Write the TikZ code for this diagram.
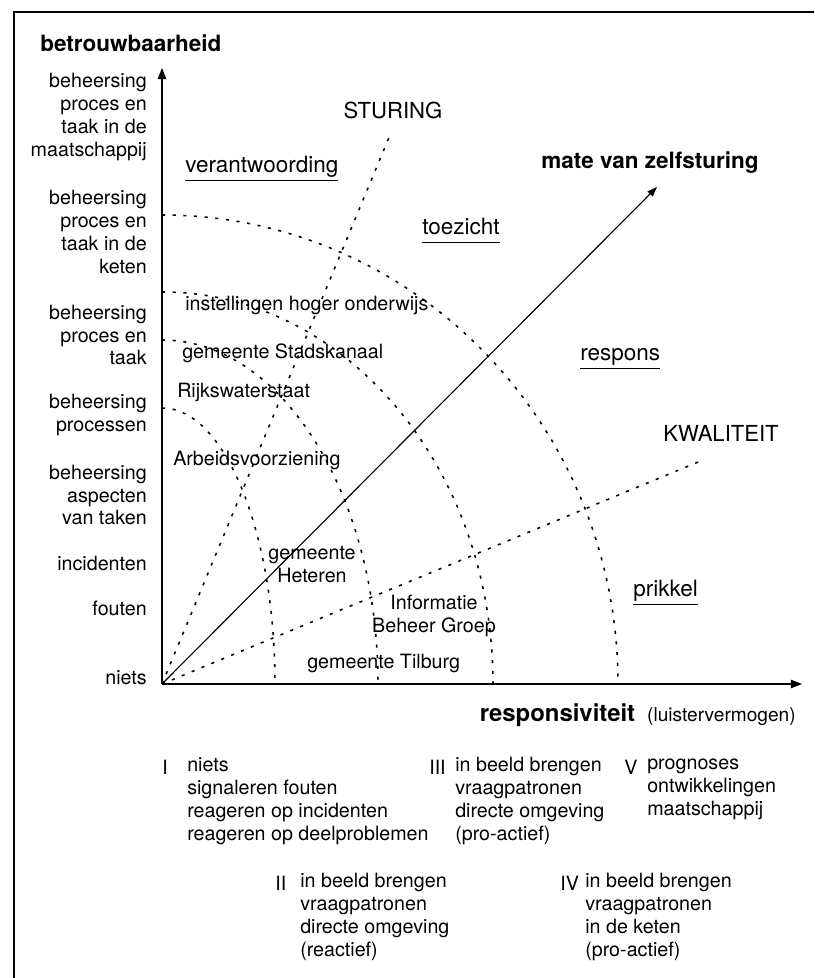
\documentclass[tikz,border=0pt]{standalone}
\usepackage{fontspec}
\setmainfont{TeX Gyre Heros}
\usetikzlibrary{arrows.meta}
\newcommand{\ondr}[1]{\underline{#1\vphantom{g}}}

\begin{document}
\begin{tikzpicture}[x=0.025cm, y=0.025cm,
    lbl/.style={font=\fontsize{14}{16.3}\selectfont, inner sep=0pt},
    vet/.style={font=\fontsize{16}{19}\selectfont\bfseries, inner sep=0pt},
    kop/.style={font=\fontsize{15.7}{19}\selectfont, inner sep=0pt},
    gebied/.style={font=\fontsize{16}{19}\selectfont, inner sep=0pt, anchor=base west},
    stip/.style={line width=1.1pt, dash pattern=on 2.2pt off 5.4pt},
    pijl/.style={-{Triangle[length=8pt,width=6pt]}, line width=1pt}]
  \useasboundingbox (-162,-294) rectangle (652,684);
  % kader
  \draw[line width=0.9pt] (-148,-294) -- (-148,672) -- (652,672);
  % assen en lijnen vanuit de oorsprong
  \coordinate (O) at (0,0);
  \coordinate (ytop) at (0,616);
  \coordinate (xend) at (640,0);
  \coordinate (zelf) at (495,497);
  \coordinate (stur) at (228,549);
  \coordinate (kwal) at (541,224);
  \draw[pijl] (O) -- (ytop);
  \draw[pijl] (O) -- (xend);
  \draw[-{Triangle[length=7pt,width=5pt]}, line width=0.8pt] (O) -- (zelf);
  \draw[stip] (O) -- (stur);
  \draw[stip] (O) -- (kwal);
  % bogen
  \foreach \a/\b in {113/276, 216/344, 331/392, 456/469}
    \draw[stip] (0,\b) arc[start angle=90, end angle=0, x radius=\a, y radius=\b];

  % as-titels
  \node (betr) [vet, anchor=west] at (-122,641) {betrouwbaarheid};
  \node (mate) [vet] at (488,521) {mate van zelfsturing};
  \node (resp) [inner sep=0pt, anchor=east] at (634,-31)
    {\fontsize{17}{19}\selectfont\bfseries responsiviteit\hspace{0.5em}\fontsize{13.6}{16}\selectfont\mdseries (luistervermogen)};
  \node (sturing) [kop] at (231,574) {STURING};
  \node (kwaliteit) [kop] at (559,251) {KWALITEIT};

  % niveaus langs de y-as
  \node (maatsch) [lbl, anchor=east, align=right] at (-15,567) {beheersing\\proces en\\taak in de\\maatschappij};
  \node (keten) [lbl, anchor=east, align=right] at (-15,452) {beheersing\\proces en\\taak in de\\keten};
  \node (taak) [lbl, anchor=east, align=right] at (-15,349) {beheersing\\proces en\\taak};
  \node (proc) [lbl, anchor=east, align=right] at (-15,269) {beheersing\\processen};
  \node (aspect) [lbl, anchor=east, align=right] at (-15,189) {beheersing\\aspecten\\van taken};
  \node (incid) [lbl, anchor=east] at (-15,121) {incidenten};
  \node (fout) [lbl, anchor=east] at (-15,76) {fouten};
  \node (niets) [lbl, anchor=east] at (-15,6) {niets};

  % gebieden
  \node (verantw) [gebied] at (23,511) {\ondr{verantwoording}};
  \node (toezicht) [gebied] at (260,449) {\ondr{toezicht}};
  \node (respons) [gebied] at (418,323) {\ondr{respons}};
  \node (prikkel) [gebied] at (471,87) {\ondr{prikkel}};

  % organisaties
  \node (hbo) [lbl, anchor=west] at (23,379) {instellingen hoger onderwijs};
  \node (stadsk) [lbl, anchor=west] at (20,331) {gemeente Stadskanaal};
  \node (rws) [lbl, anchor=west] at (15,292) {Rijkswaterstaat};
  \node (arbvz) [lbl, anchor=west] at (11,224) {Arbeidsvoorziening};
  \node (heteren) [lbl, align=center] at (150,119) {gemeente\\Heteren};
  \node (ibg) [lbl, align=center] at (272,68) {Informatie\\Beheer Groep};
  \node (tilburg) [lbl, anchor=west] at (145,21) {gemeente Tilburg};

  % legenda
  \node (numI) [lbl, anchor=west] at (0,-83) {I};
  \node (legI) [lbl, anchor=west, align=left] at (25,-117) {niets\\signaleren fouten\\reageren op incidenten\\reageren op deelproblemen};
  \node (numIII) [lbl, anchor=west] at (267,-83) {III};
  \node (legIII) [lbl, anchor=west, align=left] at (293,-117) {in beeld brengen\\vraagpatronen\\directe omgeving\\(pro-actief)};
  \node (numV) [lbl, anchor=west] at (462,-83) {V};
  \node (legV) [lbl, anchor=west, align=left] at (485,-105) {prognoses\\ontwikkelingen\\maatschappij};
  \node (numII) [lbl, anchor=west] at (113,-199) {II};
  \node (legII) [lbl, anchor=west, align=left] at (138,-233) {in beeld brengen\\vraagpatronen\\directe omgeving\\(reactief)};
  \node (numIV) [lbl, anchor=west] at (398,-199) {IV};
  \node (legIV) [lbl, anchor=west, align=left] at (423,-233) {in beeld brengen\\vraagpatronen\\in de keten\\(pro-actief)};
\end{tikzpicture}
\end{document}
